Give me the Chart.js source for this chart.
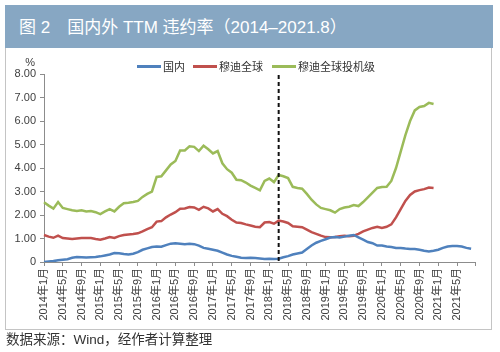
<!DOCTYPE html>
<html><head><meta charset="utf-8">
<script src="https://cdn.jsdelivr.net/npm/chart.js@4"></script>
<style>
html,body{margin:0;padding:0;background:#fff;}
body{width:500px;height:352px;position:relative;overflow:hidden;font-family:"Liberation Sans","Noto Sans CJK SC",sans-serif;}
#title{position:absolute;left:5px;top:5px;width:488px;height:43px;background:#87a7c3;color:#fff;font-size:17px;line-height:45px;padding-left:14px;box-sizing:border-box;white-space:nowrap;font-family:"Liberation Sans","Noto Sans CJK SC",sans-serif;}
#frame{position:absolute;left:5px;top:48px;width:487px;height:282px;border:1px solid #c4c4c4;border-top:none;box-sizing:border-box;pointer-events:none;}
#c{position:absolute;left:5px;top:48px;}
.lg{position:absolute;top:59px;height:14px;font-size:11px;line-height:14px;color:#333;white-space:nowrap;font-family:"Noto Sans CJK SC",sans-serif;}
.lg i{position:absolute;top:6px;height:3px;width:24px;}
#note{position:absolute;left:6px;top:331px;font-size:13.5px;line-height:18px;color:#333;white-space:nowrap;font-family:"Liberation Sans","Noto Sans CJK SC",sans-serif;}
</style>
</head>
<body>
<div id="title">图 2　国内外 TTM 违约率（2014–2021.8）</div>
<canvas id="c" width="486" height="281"></canvas>
<div id="frame"></div>
<div id="legendBox"></div>
<div id="note">数据来源：Wind，经作者计算整理</div>
<script>
// Category labels: monthly, 2014年1月 .. 2021年9月
const months = [];
for (let y = 2014; y <= 2021; y++) {
  for (let m = 1; m <= 12; m++) {
    months.push(y + '年' + m + '月');
    if (y === 2021 && m === 9) break;
  }
}
const markerMonth = '2018年3月';
const seriesNames = ['国内', '穆迪全球', '穆迪全球投机级'];
const yTicks = [0, 1, 2, 3, 4, 5, 6, 7, 8];

// 国内 (2014.1 - 2021.8)
const domestic = [
  0.00,0.02,0.04,0.07,0.10,0.12,0.18,0.21,0.20,0.19,0.20,0.21,
  0.24,0.28,0.32,0.38,0.37,0.34,0.32,0.35,0.42,0.52,0.58,0.64,
  0.66,0.65,0.72,0.78,0.80,0.78,0.76,0.78,0.76,0.70,0.60,0.56,
  0.52,0.48,0.40,0.32,0.26,0.22,0.18,0.17,0.18,0.17,0.15,0.13,
  0.14,0.13,0.14,0.20,0.25,0.32,0.36,0.40,0.55,0.70,0.82,0.90,
  0.97,1.04,1.06,1.04,1.08,1.12,1.15,1.05,0.95,0.85,0.80,0.70,
  0.70,0.66,0.64,0.60,0.60,0.57,0.55,0.55,0.52,0.48,0.45,0.48,
  0.52,0.60,0.66,0.68,0.68,0.66,0.60,0.56
];
// 穆迪全球 (2014.1 - 2020.12)
const moodysGlobal = [
  1.15,1.08,1.03,1.12,1.02,1.00,0.98,1.00,1.02,1.02,1.02,0.98,
  0.95,1.00,1.06,1.02,1.10,1.15,1.17,1.19,1.22,1.30,1.40,1.48,
  1.72,1.74,1.90,2.02,2.12,2.27,2.28,2.34,2.32,2.22,2.35,2.28,
  2.15,2.25,2.05,1.95,1.80,1.68,1.66,1.60,1.55,1.50,1.48,1.68,
  1.70,1.63,1.76,1.72,1.66,1.52,1.50,1.48,1.38,1.27,1.20,1.12,
  1.06,1.05,1.06,1.10,1.12,1.10,1.12,1.20,1.30,1.38,1.45,1.50,
  1.45,1.50,1.60,1.90,2.25,2.60,2.85,3.00,3.06,3.10,3.17,3.15
];
// 穆迪全球投机级 (2014.1 - 2020.12)
const moodysSpec = [
  2.54,2.40,2.27,2.55,2.30,2.25,2.20,2.17,2.20,2.15,2.17,2.12,
  2.04,2.15,2.25,2.15,2.35,2.50,2.52,2.55,2.60,2.77,2.90,3.00,
  3.62,3.65,3.90,4.15,4.30,4.75,4.75,4.92,4.90,4.72,4.95,4.80,
  4.62,4.72,4.20,3.95,3.80,3.50,3.48,3.38,3.25,3.15,3.05,3.45,
  3.55,3.40,3.70,3.65,3.57,3.20,3.15,3.12,2.90,2.65,2.45,2.30,
  2.25,2.20,2.10,2.25,2.32,2.35,2.42,2.38,2.55,2.75,2.95,3.15,
  3.19,3.20,3.45,4.00,4.70,5.40,6.00,6.45,6.60,6.64,6.77,6.72
];

const colors = ['#4f81bd', '#c0504d', '#9bbb59'];
const FONT = "'Liberation Sans', 'Noto Sans CJK SC', sans-serif";

const overlay = {
  id: 'overlay',
  afterDatasetsDraw(chart) {
    const {ctx, chartArea, scales} = chart;
    const px = scales.x.getPixelForValue(months.indexOf(markerMonth));
    ctx.save();
    ctx.strokeStyle = '#111';
    ctx.lineWidth = 2;
    ctx.setLineDash([4, 3]);
    ctx.beginPath();
    ctx.moveTo(px, chartArea.top + 1);
    ctx.lineTo(px, chartArea.bottom);
    ctx.stroke();
    ctx.setLineDash([]);
    ctx.fillStyle = '#404040';
    ctx.font = "11px " + FONT;
    ctx.textAlign = 'right';
    ctx.textBaseline = 'alphabetic';
    ctx.fillText('%', chartArea.left - 9, chartArea.top - 8);
    ctx.restore();
  }
};

const chart = new Chart(document.getElementById('c'), {
  type: 'line',
  data: {
    labels: months,
    datasets: [
      {label: seriesNames[0], data: domestic, borderColor: colors[0], backgroundColor: colors[0]},
      {label: seriesNames[1], data: moodysGlobal, borderColor: colors[1], backgroundColor: colors[1]},
      {label: seriesNames[2], data: moodysSpec, borderColor: colors[2], backgroundColor: colors[2]}
    ].map(d => Object.assign(d, {borderWidth: 2.5, pointRadius: 0, tension: 0, fill: false}))
  },
  options: {
    responsive: false,
    animation: false,
    layout: {padding: {left: 0, right: 6, top: 26, bottom: 0}},
    plugins: {legend: {display: false}, tooltip: {enabled: false}},
    scales: {
      x: {
        type: 'category',
        offset: false,
        border: {display: true, color: '#8c8c8c', width: 1},
        grid: {drawOnChartArea: false, drawTicks: true, tickLength: 4, color: '#8c8c8c'},
        ticks: {
          autoSkip: false, minRotation: 90, maxRotation: 90, padding: 2,
          color: '#404040', font: {size: 11, family: FONT},
          callback: function (v, i) {
            if (i % 4 !== 0) return null;
            return i === months.length - 1 ? '' : months[i];
          }
        },
        afterFit: s => { s.height = 67; }
      },
      y: {
        min: 0, max: 8,
        border: {display: true, color: '#8c8c8c', width: 1},
        grid: {drawOnChartArea: false, drawTicks: true, tickLength: 4, color: '#8c8c8c'},
        afterBuildTicks: s => { s.ticks = yTicks.map(v => ({value: v})); },
        ticks: {
          padding: 4, color: '#404040', font: {size: 11, family: FONT},
          callback: v => v === 0 ? '0' : v.toFixed(2)
        },
        afterFit: s => { s.width = 39; }
      }
    }
  },
  plugins: [overlay]
});

// HTML legend built from the chart's datasets
const legendLeft = [137, 193, 272];
const box = document.getElementById('legendBox');
chart.data.datasets.forEach((d, k) => {
  const el = document.createElement('div');
  el.className = 'lg';
  el.style.left = legendLeft[k] + 'px';
  el.style.paddingLeft = '26px';
  const line = document.createElement('i');
  line.style.left = '0px';
  line.style.background = d.borderColor;
  el.appendChild(line);
  el.appendChild(document.createTextNode(d.label));
  box.appendChild(el);
});
</script>
</body></html>
